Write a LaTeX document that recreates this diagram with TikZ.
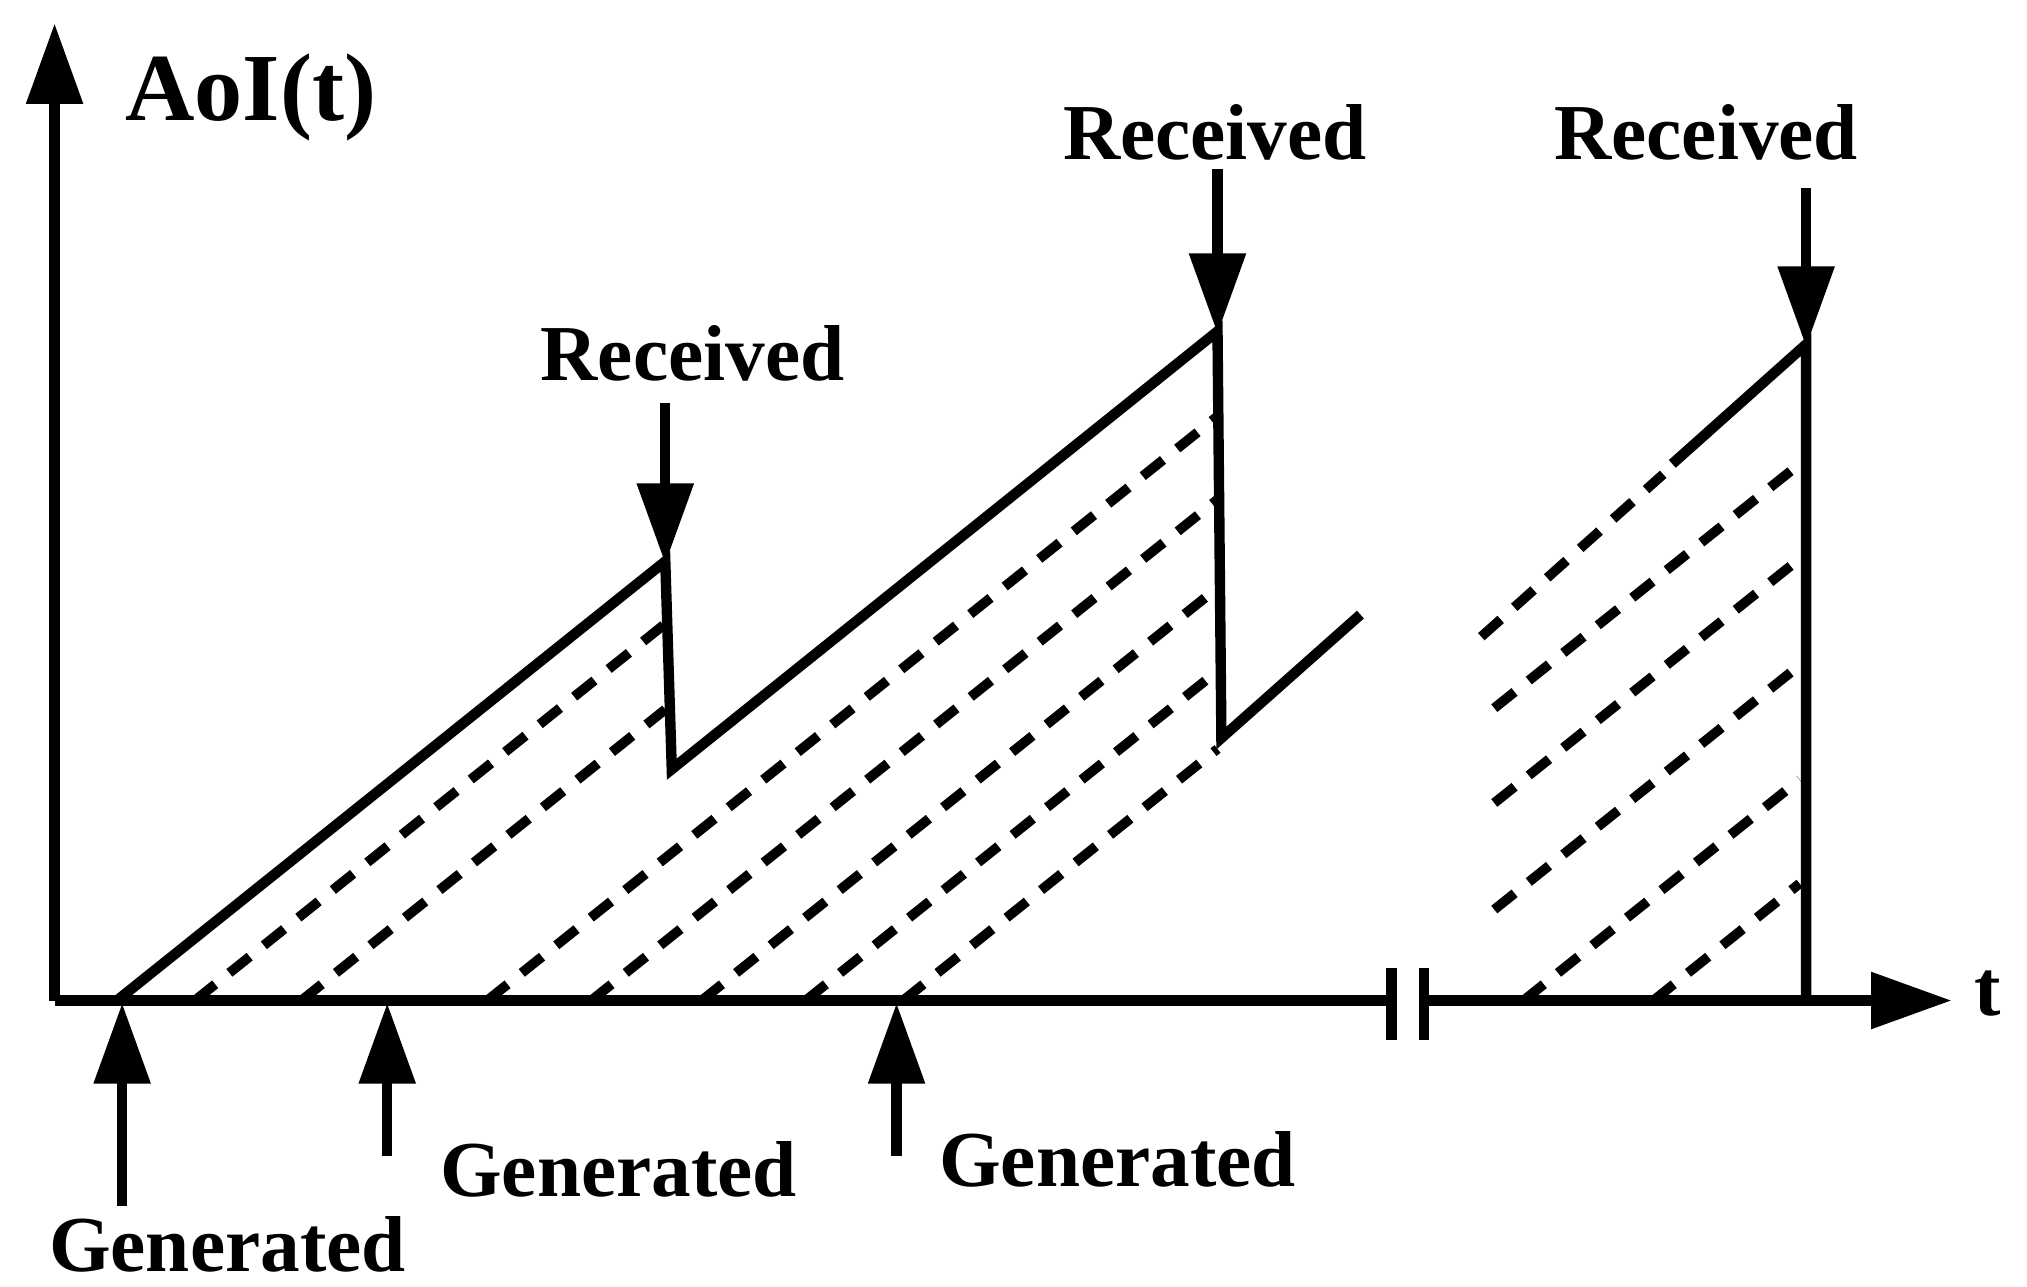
\documentclass[tikz,border=0pt]{standalone}
\usepackage{fontspec}
\setmainfont{Liberation Serif}
\usetikzlibrary{arrows.meta}
\begin{document}
\begin{tikzpicture}[x=1pt,y=-1pt,
  ln/.style={line width=8pt},
  dsh/.style={line width=7.5pt,dash pattern=on 20pt off 14pt},
  arr/.style={line width=8pt,-{Triangle[length=62pt,width=42pt]}},
  lab/.style={font=\fontsize{61}{63}\selectfont\bfseries,inner sep=0pt}]
\useasboundingbox (0,0) rectangle (1560,990);
% axes
\coordinate (o) at (42,770);
\coordinate (ytop) at (42,18);
\coordinate (xend) at (1502,770);
\draw[arr] (o) -- (ytop);
\draw[arr] (o) -- (xend);
\node[lab,font=\fontsize{74}{76}\selectfont\bfseries] (aoi) at (193,75) {AoI(t)};
\node[lab] (t) at (1530,765) {t};
% break marks
\coordinate (b1a) at (1071,745); \coordinate (b1b) at (1071,800);
\coordinate (b2a) at (1096,745); \coordinate (b2b) at (1096,800);
\fill[white] (1075,750) rectangle (1092,790);
\draw[ln] (b1a) -- (b1b); \draw[ln] (b2a) -- (b2b);
% solid sawtooth
\draw[ln,line join=miter] (90,770) -- (512,432) -- (517,592) -- (937,255) -- (940,568) -- (1047,473);
\draw[ln] (1287,357) -- (1390,265) -- (1390,770);
% dashed lines
\foreach \s/\e/\ye in {150/512/480, 232/512/546}
  \draw[dsh] (\s,770) -- (\e,\ye);
\foreach \s in {375,455,540,620,695}
  \draw[dsh] (\s,770) -- (937,{770-0.8*(937-\s)});
\draw[dsh] (1140,490) -- (1280,365);
\foreach \ye in {357,430,512}
  \draw[dsh] (1150,{\ye+0.8*235}) -- (1385,\ye);
\foreach \ye in {600,680}
  \draw[dsh] ({1385-(770-\ye)/0.8},770) -- (1385,\ye);
% received arrows
\draw[arr] (512,310) -- (512,434);
\draw[arr] (937,130) -- (937,257);
\draw[arr] (1390,145) -- (1390,267);
\node[lab] (r1) at (533,272) {Received};
\node[lab] (r2) at (935,102) {Received};
\node[lab] (r3) at (1313,102) {Received};
% generated arrows
\draw[arr] (94,928) -- (94,772);
\draw[arr] (298,890) -- (298,772);
\draw[arr] (690,890) -- (690,772);
\node[lab] (g1) at (175,958) {Generated};
\node[lab] (g2) at (476,900) {Generated};
\node[lab] (g3) at (860,892) {Generated};
\end{tikzpicture}
\end{document}
